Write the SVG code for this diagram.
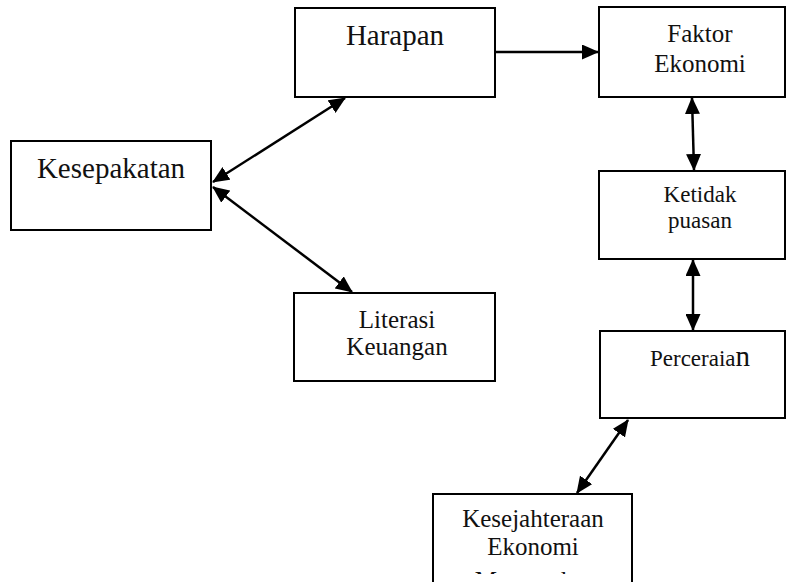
<svg xmlns="http://www.w3.org/2000/svg" width="787" height="582" viewBox="0 0 787 582">
<style>
.box{fill:#fff;stroke:#000;stroke-width:2}
.t{font-family:"Liberation Serif","Times New Roman",serif;fill:#111;text-anchor:middle}
.c{stroke:#000;stroke-width:2.5;fill:none}
</style>
<defs>
<marker id="ah" markerUnits="userSpaceOnUse" markerWidth="17" markerHeight="15" refX="16" refY="7.5" orient="auto-start-reverse">
<path d="M0,0 L17,7.5 L0,15 z" fill="#000"/>
</marker>
<clipPath id="cut"><rect x="434" y="555" width="197" height="19"/></clipPath>
</defs>
<rect width="787" height="582" fill="#fff"/>
<g id="harapan"><rect class="box" x="295" y="8" width="200" height="89"/><text class="t" x="395" y="45" font-size="29">Harapan</text></g>
<g id="kesepakatan"><rect class="box" x="11" y="141" width="200" height="89"/><text class="t" x="111" y="178" font-size="29">Kesepakatan</text></g>
<g id="literasi"><rect class="box" x="294" y="293" width="201" height="88"/><text class="t" x="397" y="328" font-size="25">Literasi</text><text class="t" x="397" y="355" font-size="25">Keuangan</text></g>
<g id="faktor"><rect class="box" x="599" y="7" width="186" height="90"/><text class="t" x="700" y="42" font-size="25">Faktor</text><text class="t" x="700" y="72" font-size="25">Ekonomi</text></g>
<g id="ketidakpuasan"><rect class="box" x="599" y="171" width="186" height="88"/><text class="t" x="700" y="202" font-size="23">Ketidak</text><text class="t" x="700" y="228" font-size="23">puasan</text></g>
<g id="perceraian"><rect class="box" x="600" y="331" width="185" height="87"/><text class="t" x="700" y="366" font-size="23">Perceraia<tspan font-size="29">n</tspan></text></g>
<g id="kesejahteraan"><rect class="box" x="433" y="494" width="199" height="100"/><text class="t" x="533" y="527" font-size="25">Kesejahteraan</text><text class="t" x="533" y="555" font-size="25">Ekonomi</text><text class="t" x="533" y="589" font-size="25" clip-path="url(#cut)">Masyarakat</text></g>
<g id="connectors">
<line class="c" x1="496" y1="52" x2="598" y2="52" marker-end="url(#ah)"/>
<line class="c" x1="692" y1="98" x2="694" y2="170" marker-start="url(#ah)" marker-end="url(#ah)"/>
<line class="c" x1="693" y1="260" x2="693" y2="330" marker-start="url(#ah)" marker-end="url(#ah)"/>
<line class="c" x1="628" y1="420" x2="577" y2="493" marker-start="url(#ah)" marker-end="url(#ah)"/>
<line class="c" x1="213" y1="182" x2="345" y2="98" marker-start="url(#ah)" marker-end="url(#ah)"/>
<line class="c" x1="213" y1="187" x2="352" y2="292" marker-start="url(#ah)" marker-end="url(#ah)"/>
</g>
</svg>
